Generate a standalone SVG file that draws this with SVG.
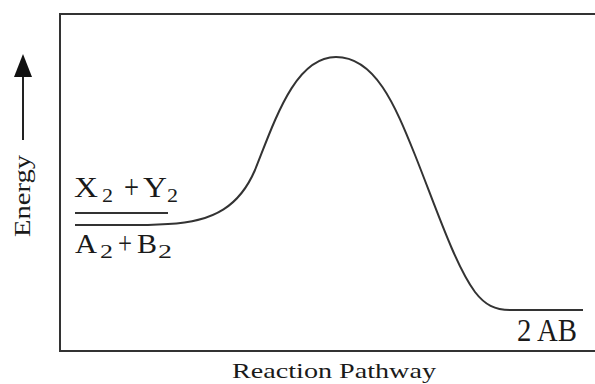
<svg xmlns="http://www.w3.org/2000/svg" width="595" height="384" viewBox="0 0 595 384">
<style>
.t{font-family:"Liberation Serif","Times New Roman",serif;fill:#1a1a1a}
.ln{fill:none;stroke:#333;stroke-width:2}
</style>
<rect width="595" height="384" fill="#fff"/>
<g id="frame"><path class="ln" d="M596,14 H60 V351 H596"/></g>
<g id="axis-y">
<line x1="23" y1="140" x2="23" y2="72" stroke="#222" stroke-width="2"/>
<polygon points="23,54 14,77 32,77" fill="#111"/>
<text class="t" transform="translate(30,237) rotate(-90)" font-size="24" textLength="82" lengthAdjust="spacingAndGlyphs">Energy</text>
</g>
<g id="axis-x"><text class="t" x="232" y="378" font-size="21" textLength="204" lengthAdjust="spacingAndGlyphs">Reaction Pathway</text></g>
<g id="connectors">
<line class="ln" x1="75" y1="213" x2="168" y2="213"/>
<path class="ln" d="M75,225 L148,225 L168,224 C215,222 240,205 255,170 C275,120 295,57 336,57 C375,57 395,105 415,155 C435,205 455,265 475,292 C485,305 495,310 510,310 L583,310"/>
</g>
<g id="reactants-xy">
<text class="t" x="74" y="197" font-size="30" textLength="24" lengthAdjust="spacingAndGlyphs">X</text>
<text class="t" x="102" y="202" font-size="18" textLength="11" lengthAdjust="spacingAndGlyphs">2</text>
<text class="t" x="124" y="198" font-size="34" textLength="15" lengthAdjust="spacingAndGlyphs">+</text>
<text class="t" x="143" y="197" font-size="30" textLength="24" lengthAdjust="spacingAndGlyphs">Y</text>
<text class="t" x="167" y="202" font-size="18" textLength="11" lengthAdjust="spacingAndGlyphs">2</text>
</g>
<g id="reactants-ab">
<text class="t" x="75" y="253" font-size="27" textLength="22" lengthAdjust="spacingAndGlyphs">A</text>
<text class="t" x="100" y="258" font-size="19" textLength="13" lengthAdjust="spacingAndGlyphs">2</text>
<text class="t" x="118" y="254" font-size="31" textLength="14" lengthAdjust="spacingAndGlyphs">+</text>
<text class="t" x="137" y="253" font-size="27" textLength="20" lengthAdjust="spacingAndGlyphs">B</text>
<text class="t" x="158" y="258" font-size="19" textLength="14" lengthAdjust="spacingAndGlyphs">2</text>
</g>
<g id="product"><text class="t" x="517" y="341" font-size="31" textLength="60" lengthAdjust="spacingAndGlyphs">2 AB</text></g>
</svg>
